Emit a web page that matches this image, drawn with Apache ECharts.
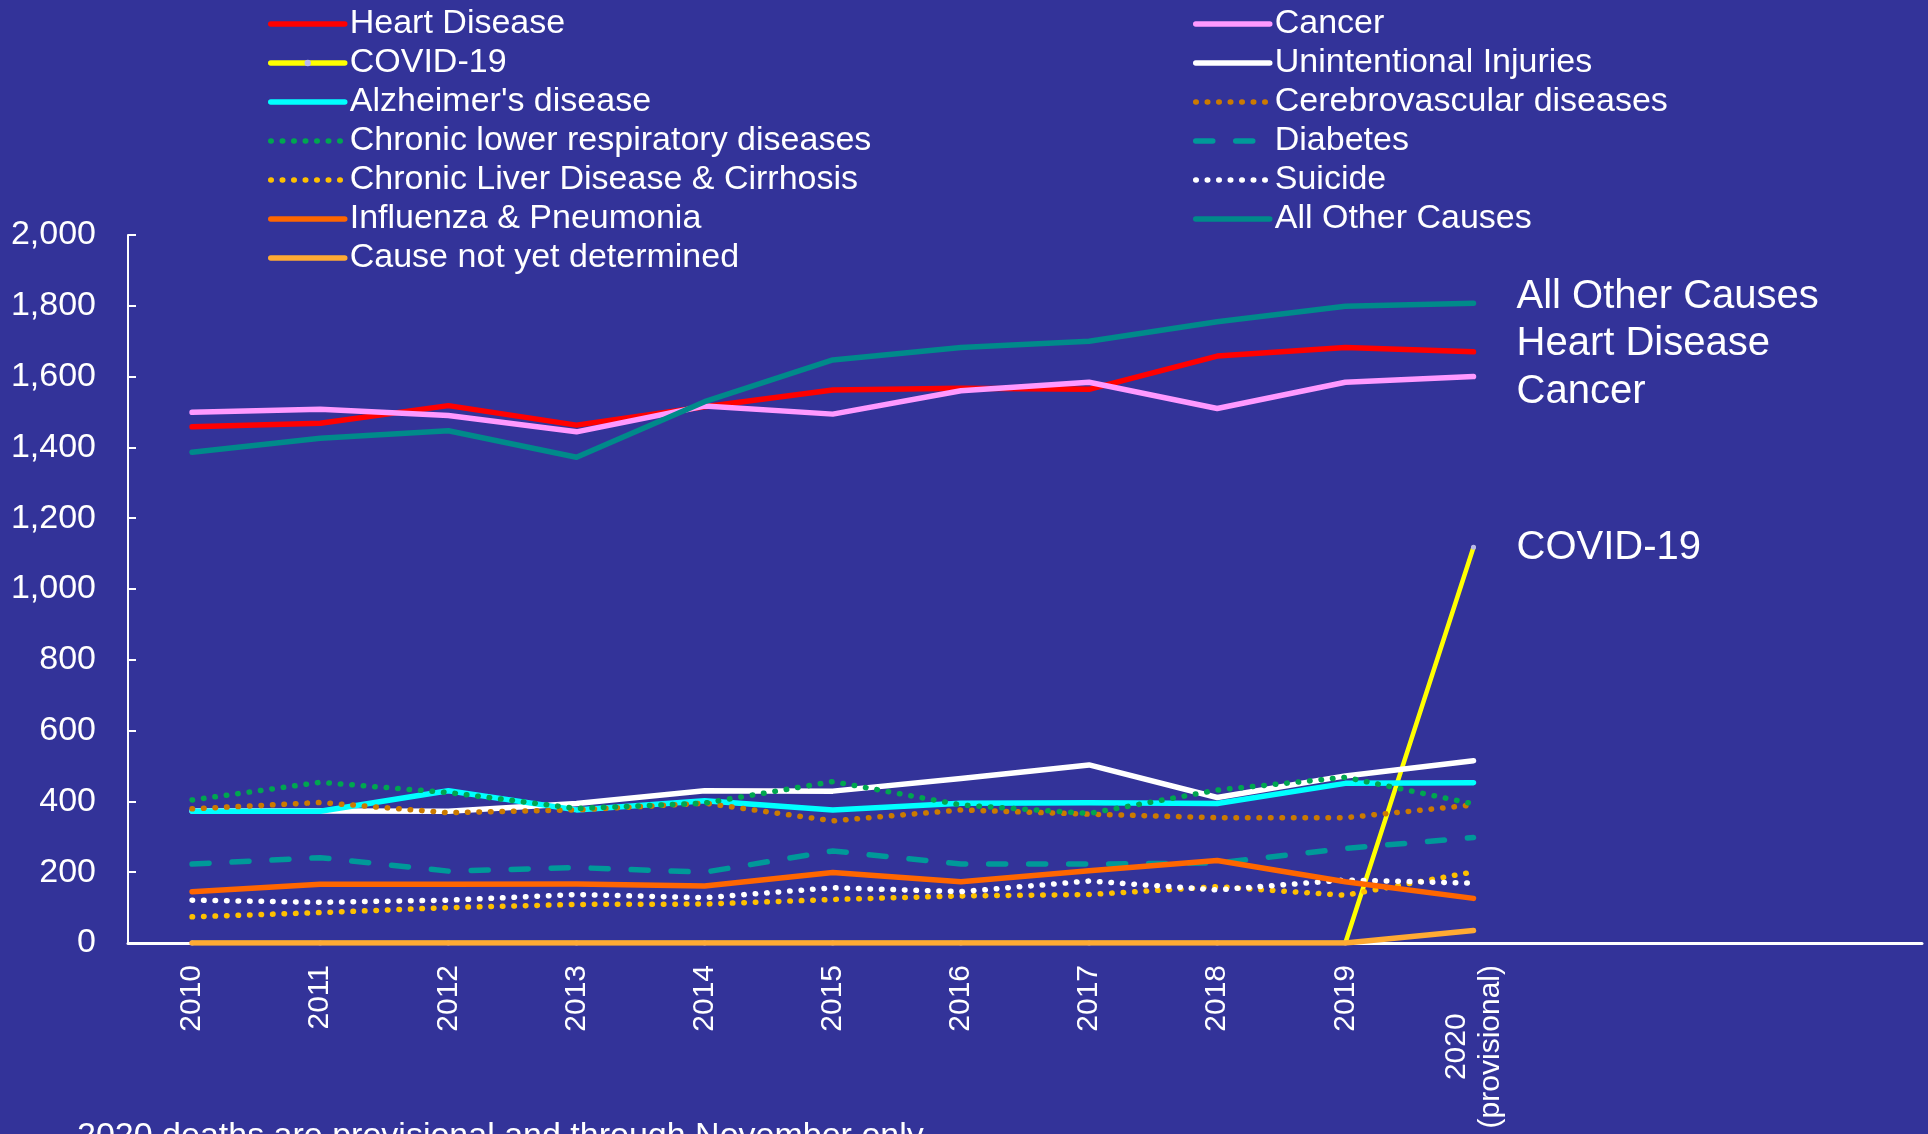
<!DOCTYPE html>
<html>
<head>
<meta charset="utf-8">
<script src="https://cdn.jsdelivr.net/npm/echarts@6/dist/echarts.min.js"></script>
<style>
html,body{margin:0;padding:0;background:#333399;}
#chart{width:1928px;height:1134px;}
</style>
</head>
<body>
<div id="chart"></div>
<script>
// ---- data ----
var categories = ['2010','2011','2012','2013','2014','2015','2016','2017','2018','2019','2020\n(provisional)','','',''];
var heartDisease   = [1458,1468,1518,1463,1515,1562,1567,1564,1658,1682,1670];
var cancer         = [1499,1508,1490,1444,1517,1494,1560,1584,1510,1584,1600];
var covid19        = [0,0,0,0,0,0,0,0,0,0,1118];
var unintentional  = [373,373,372,394,430,429,465,503,411,472,515];
var alzheimers     = [372,372,430,376,402,376,395,396,394,451,453];
var cerebrovascular= [379,397,368,376,395,345,376,364,354,354,390];
var chronicLower   = [404,454,425,380,395,456,390,366,432,468,393];
var diabetes       = [223,241,203,213,200,260,223,223,226,267,298];
var liverDisease   = [74,86,100,109,110,123,133,137,159,135,201];
var suicide        = [121,115,121,137,128,156,145,175,150,178,169];
var influenza      = [145,166,166,167,161,199,173,204,233,173,126];
var allOther       = [1386,1426,1447,1372,1529,1647,1682,1700,1755,1799,1807];
var undetermined   = [0,0,0,0,0,0,0,0,0,0,35];
var yTicks = {min:0, max:2000, interval:200};
var footnote = '2020 deaths are provisional and through November only';

var FONT = '"Liberation Sans", Arial, sans-serif';
var DOT = [0.5, 11];
var DASH = [17, 23];

function mk(name, arr, color, opts){
  opts = opts || {};
  var s = {
    name:name, type:'line', data: arr,
    symbol: opts.symbol ? 'circle' : 'none', symbolSize: 5, showSymbol: !!opts.symbol,
    itemStyle:{color: opts.symbol ? '#b8b8f0' : color},
    lineStyle:{color:color, width: opts.width||5.5, type: opts.type||'solid', cap:'round', join:'round'},
    z: opts.z || 2, animation:false, silent:true
  };
  if (opts.endLabel) {
    s.endLabel = {show:true, formatter:opts.endLabel, color:'#ffffff', fontSize:40, fontFamily:FONT,
      distance:43, offset:[0, opts.offY||0]};
  }
  return s;
}

var series = [
  mk('Heart Disease', heartDisease, '#ff0000', {endLabel:'Heart Disease', offY:-7.5}),
  mk('Cancer', cancer, '#ff99ff', {endLabel:'Cancer', offY:15.5}),
  mk('COVID-19', covid19, '#ffff00', {endLabel:'COVID-19', offY:1, symbol:true, width:4.5}),
  mk('Unintentional Injuries', unintentional, '#ffffff'),
  mk("Alzheimer's disease", alzheimers, '#00ffff'),
  mk('Cerebrovascular diseases', cerebrovascular, '#cc7a00', {type:DOT}),
  mk('Chronic lower respiratory diseases', chronicLower, '#00a650', {type:DOT}),
  mk('Diabetes', diabetes, '#009999', {type:DASH, width:5.5}),
  mk('Chronic Liver Disease & Cirrhosis', liverDisease, '#ffc000', {type:DOT}),
  mk('Suicide', suicide, '#ffffff', {type:DOT}),
  mk('Influenza & Pneumonia', influenza, '#ff6600'),
  mk('All Other Causes', allOther, '#008a8a', {endLabel:'All Other Causes', offY:-6.5}),
  mk('Cause not yet determined', undetermined, '#ffaa33', {z:3})
];

function legendData(names){
  return names.map(function(n){
    if (n === 'COVID-19') return {name:n, itemStyle:{opacity:1, color:'#b8b8f0'}};
    return n;
  });
}

var legendCommon = {
  orient:'vertical', top:7, padding:0, itemWidth:74, itemHeight:8, itemGap:5,
  textStyle:{color:'#ffffff', fontSize:34, fontFamily:FONT},
  itemStyle:{opacity:0},
  lineStyle:{width:5.5, cap:'round'},
  selectedMode:false
};

var option = {
  backgroundColor:'#333399',
  animation:false,
  textStyle:{fontFamily:FONT},
  legend:[
    Object.assign({left:268, data:legendData(['Heart Disease','COVID-19',"Alzheimer's disease",'Chronic lower respiratory diseases','Chronic Liver Disease & Cirrhosis','Influenza & Pneumonia','Cause not yet determined'])}, legendCommon),
    Object.assign({left:1193, data:legendData(['Cancer','Unintentional Injuries','Cerebrovascular diseases','Diabetes','Suicide','All Other Causes'])}, legendCommon)
  ],
  grid:{left:128, right:6, top:235, bottom:191, containLabel:false},
  xAxis:{
    type:'category', data:categories, boundaryGap:true,
    axisLine:{show:true, lineStyle:{color:'#ffffff', width:3}},
    axisTick:{show:false},
    axisLabel:{
      rotate:90, margin:22, color:'#ffffff', fontSize:30, fontFamily:FONT, interval:0,
      formatter:function(v){
        if (v.indexOf('\n')>=0) return v.split('\n').map(function(s){return '{c|'+s+'}';}).join('\n');
        return v;
      },
      rich:{c:{align:'center', color:'#ffffff', fontSize:30, fontFamily:FONT, lineHeight:34}}
    },
    splitLine:{show:false}
  },
  yAxis:{
    type:'value', min:yTicks.min, max:yTicks.max, interval:yTicks.interval,
    axisLine:{show:true, lineStyle:{color:'#ffffff', width:2}},
    axisTick:{show:true, inside:true, length:8, lineStyle:{color:'#ffffff', width:2}},
    axisLabel:{color:'#ffffff', fontSize:34, fontFamily:FONT, margin:32,
      formatter:function(v){return v.toString().replace(/\B(?=(\d{3})+(?!\d))/g, ',');}},
    splitLine:{show:false}
  },
  graphic:[{type:'text', left:77, top:1120, silent:true,
    style:{text:footnote, fill:'#ffffff', fontSize:34, fontFamily:FONT}}],
  series:series
};

var chart = echarts.init(document.getElementById('chart'), null, {renderer:'canvas'});
chart.setOption(option);
</script>
</body>
</html>
